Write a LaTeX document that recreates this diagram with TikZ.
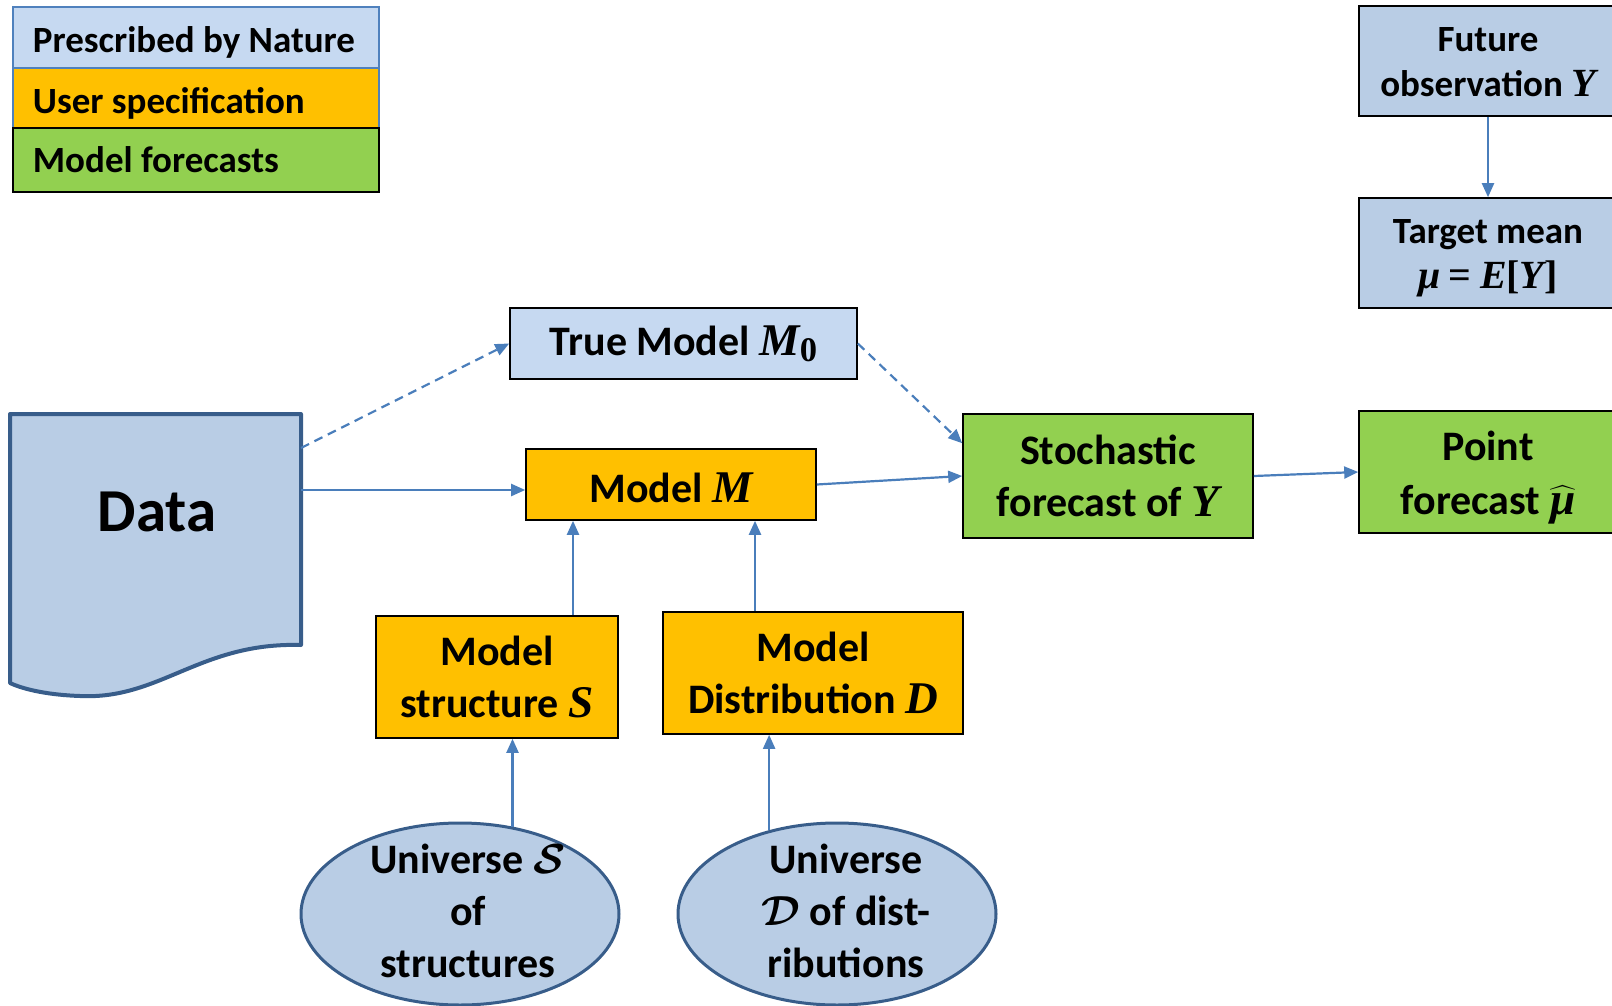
\RequirePackage{fix-cm}
\documentclass[tikz,border=0pt]{standalone}
\usepackage{amsmath,bm}
\usepackage{fontspec}
\setmainfont{Carlito}
\newfontfamily\varserif[Scale=1.08]{Liberation Serif}
\usetikzlibrary{arrows.meta,shapes.geometric,calc}

\definecolor{natlight}{HTML}{C6D9F1}
\definecolor{natblue}{HTML}{B9CDE5}
\definecolor{userorange}{HTML}{FFC000}
\definecolor{fcgreen}{HTML}{92D050}
\definecolor{arrowblue}{HTML}{4A7EBB}
\definecolor{legblue}{HTML}{4F81BD}
\definecolor{darkrim}{HTML}{385D8A}

\newcommand{\bigtxt}{\bfseries\fontsize{42}{52}\selectfont}
\newcommand{\smalltxt}{\bfseries\fontsize{37}{44}\selectfont}
% bold italic serif variable, upright serif symbol
\newcommand{\vv}[1]{{\varserif\bfseries\itshape #1}}
\newcommand{\vu}[1]{{\varserif\bfseries #1}}
% extra head room on a first line pushes a centred block down
\newcommand{\pushdown}[1]{\rule{0pt}{#1}}

\tikzset{
  box/.style={draw=black, line width=1.6pt, inner sep=0pt, align=center, font=\bigtxt},
  natbox/.style={box, fill=natblue},
  userbox/.style={box, fill=userorange},
  fcbox/.style={box, fill=fcgreen},
  universe/.style={ellipse, draw=darkrim, line width=3pt, fill=natblue, inner sep=0pt,
    minimum width=318pt, minimum height=182pt, align=center, font=\bigtxt},
  legrow/.style={line width=1.8pt, inner xsep=20pt, inner ysep=0pt, anchor=north west,
    minimum width=366pt, font=\smalltxt},
  arr/.style={draw=arrowblue, line width=2.2pt, -{Triangle[length=14pt,width=12pt]}},
  dasharr/.style={arr, dash pattern=on 9pt off 6pt},
}

\begin{document}
\begin{tikzpicture}[x=1pt, y=-1pt]
\useasboundingbox (0,0) rectangle (1612,1006);

% legend
\node[legrow, fill=natlight, draw=legblue, minimum height=61pt] (leg1) at (12,6) {\makebox[326pt][l]{\pushdown{36pt}Prescribed by Nature}};
\node[legrow, fill=userorange, draw=legblue, minimum height=60.5pt] (leg2) at (12,67) {\makebox[326pt][l]{\pushdown{36pt}User specification}};
\node[legrow, fill=fcgreen, draw=black, minimum height=63.5pt] (leg3) at (12,127.5) {\makebox[326pt][l]{Model forecasts}};

% data document shape
\path[fill=natblue, draw=darkrim, line width=4pt, line join=round]
  (10,414) -- (301,414) -- (301,645)
  .. controls (200,642) and (160,700) .. (80,696)
  .. controls (50,695) and (25,690) .. (10,683) -- cycle;
\node[font=\bfseries\fontsize{61}{70}\selectfont] (data) at (157,512) {Data};
\coordinate (data-a) at (301,448);
\coordinate (data-b) at (301,490);

% nodes
\node[box, fill=natlight, minimum width=347pt, minimum height=71pt] (truem) at (683.5,343.5)
  {True Model \vv{M}\raisebox{-0.28ex}{\fontsize{32}{32}\selectfont\vu{0}}};
\node[userbox, minimum width=290pt, minimum height=71pt] (mm) at (671,484.5) {\pushdown{36pt}Model \vv{M}};
\node[fcbox, minimum width=290pt, minimum height=124pt] (stoch) at (1108,476) {Stochastic\\forecast of \vv{Y}};
\node[fcbox, minimum width=258pt, minimum height=122pt] (point) at (1488,472)
  {\pushdown{40pt}Point\\[2pt]forecast $\widehat{\hbox{\vv{μ}}}$};
\node[natbox, font=\smalltxt, minimum width=258pt, minimum height=110pt] (fut) at (1488,61)
  {\pushdown{27pt}Future\\[1pt]observation \vv{Y}};
\node[natbox, font=\smalltxt, minimum width=258pt, minimum height=110pt] (tgt) at (1488,253)
  {\pushdown{35pt}Target mean\\[1pt]\vv{μ} \vu{=} \vv{E}\vu{[}\vv{Y}\vu{]}};
\node[userbox, minimum width=242pt, minimum height=122pt] (struct) at (497,677) {Model\\structure \vv{S}};
\node[userbox, minimum width=300pt, minimum height=122pt] (dist) at (813,673) {Model\\Distribution \vv{D}};
\node[universe] (u1) at (460,914) {};
\node[font=\bigtxt, align=center] (u1t) at (468,911) {Universe $\bm{\mathcal{S}}$\\of\\structures};
\node[universe] (u2) at (837,914) {};
\node[font=\bigtxt, align=center] (u2t) at (846,911) {Universe\\$\bm{\mathcal{D}}$ of dist-\\ributions};

% connectors
\draw[dasharr] (data-a) -- (truem.west);
\draw[arr] (data-b) -- (data-b -| mm.west);
\draw[dasharr] (truem.east) -- ([yshift=-30pt]stoch.north west);
\draw[arr] (mm.east) -- (stoch.west);
\draw[arr] (stoch.east) -- (point.west);
\draw[arr] (fut.south) -- (tgt.north);
\draw[arr] ([xshift=76pt]struct.north) coordinate (s1) -- (s1 |- mm.south);
\draw[arr] ([xshift=-58pt]dist.north) coordinate (d1) -- (d1 |- mm.south);
\draw[arr] (u1.59) coordinate (e1) -- (e1 |- struct.south);
\draw[arr] (u2.129) coordinate (e2) -- (e2 |- dist.south);
\end{tikzpicture}
\end{document}
